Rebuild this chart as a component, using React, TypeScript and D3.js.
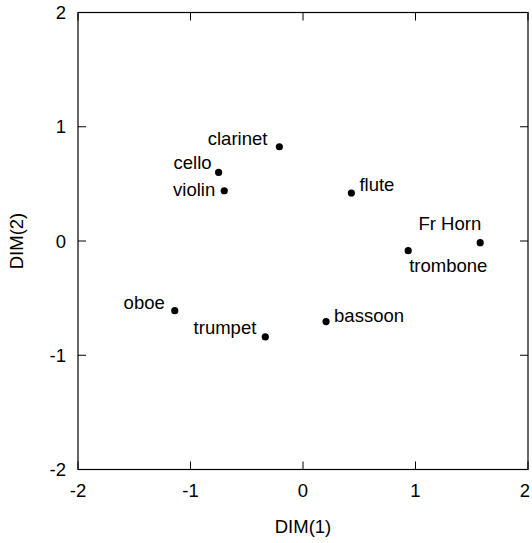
import { useRef, useEffect } from "react";
import * as d3 from "d3";

const instruments = ["clarinet", "cello", "violin", "flute", "oboe", "trumpet", "bassoon", "Fr Horn", "trombone"];
const dim1 = [-0.21, -0.75, -0.70, 0.43, -1.14, -0.335, 0.205, 1.575, 0.935];
const dim2 = [0.825, 0.60, 0.44, 0.42, -0.61, -0.84, -0.705, -0.015, -0.085];
const ticks = [-2, -1, 0, 1, 2];

// label placement relative to its dot: [dx, dy, anchor]
const labelPlace: Record<string, [number, number, string]> = {
  clarinet: [-12, -2, "end"],
  cello: [-7, -3, "end"],
  violin: [-9, 5, "end"],
  flute: [8, -2, "start"],
  oboe: [-10, -2, "end"],
  trumpet: [-9, -3, "end"],
  bassoon: [8, 0, "start"],
  "Fr Horn": [1, -12.5, "end"],
  trombone: [1, 21, "start"],
};

export default function App() {
  const svgRef = useRef<SVGSVGElement>(null);

  useEffect(() => {
    document.body.style.margin = "0";
    if (!svgRef.current) return;
    const svg = d3.select(svgRef.current);
    svg.selectAll("*").remove();

    const left = 78, right = 528, top = 12.5, bottom = 469.5;
    const x = d3.scaleLinear().domain([-2, 2]).range([left, right]);
    const y = d3.scaleLinear().domain([-2, 2]).range([bottom, top]);
    const font = "'Liberation Sans', Arial, Helvetica, sans-serif";
    const tickLen = 8;

    svg.append("rect")
      .attr("x", left).attr("y", top)
      .attr("width", right - left).attr("height", bottom - top)
      .attr("fill", "none").attr("stroke", "#000").attr("stroke-width", 1.2);

    const tk = svg.append("g").attr("stroke", "#000").attr("stroke-width", 1);
    ticks.forEach((t) => {
      tk.append("line").attr("x1", x(t)).attr("x2", x(t)).attr("y1", bottom).attr("y2", bottom - tickLen);
      tk.append("line").attr("x1", x(t)).attr("x2", x(t)).attr("y1", top).attr("y2", top + tickLen);
      tk.append("line").attr("y1", y(t)).attr("y2", y(t)).attr("x1", left).attr("x2", left + tickLen);
      tk.append("line").attr("y1", y(t)).attr("y2", y(t)).attr("x1", right).attr("x2", right - tickLen);
    });

    const txt = svg.append("g").attr("font-family", font).attr("font-size", 18.5).attr("fill", "#000");
    ticks.forEach((t) => {
      txt.append("text").attr("x", Math.min(x(t), 525)).attr("y", bottom + 27).attr("text-anchor", "middle").text(t);
      txt.append("text").attr("x", left - 12).attr("y", y(t) + 6.5).attr("text-anchor", "end").text(t);
    });

    txt.append("text").attr("x", (left + right) / 2).attr("y", 533).attr("text-anchor", "middle").text("DIM(1)");
    txt.append("text")
      .attr("transform", `translate(23,${(top + bottom) / 2}) rotate(-90)`)
      .attr("text-anchor", "middle").text("DIM(2)");

    instruments.forEach((name, i) => {
      const cx = x(dim1[i]), cy = y(dim2[i]);
      svg.append("circle").attr("cx", cx).attr("cy", cy).attr("r", 3.6).attr("fill", "#000");
      const [dx, dy, anchor] = labelPlace[name];
      txt.append("text").attr("x", cx + dx).attr("y", cy + dy).attr("text-anchor", anchor).text(name);
    });
  }, []);

  return <svg ref={svgRef} width={532} height={543} style={{ display: "block" }} />;
}
